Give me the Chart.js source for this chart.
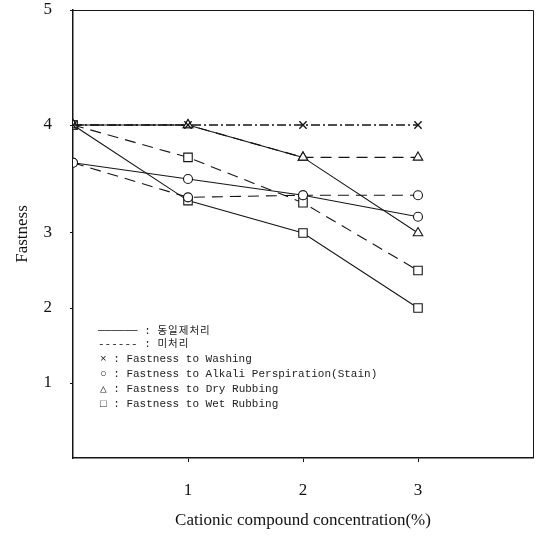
<!DOCTYPE html>
<html>
<head>
<meta charset="utf-8">
<script src="https://cdn.jsdelivr.net/npm/chart.js@4/dist/chart.umd.min.js"></script>
<style>
  html, body { margin: 0; padding: 0; background: #fff; }
  #wrap { position: relative; width: 541px; height: 537px; }
  #c { position: absolute; left: 0; top: 0; }
  .lg { position: absolute; font-family: "Liberation Mono", "DejaVu Sans Mono", monospace; font-size: 11px; color: #222; white-space: pre; line-height: 12px; }
  .ko { font-family: "Noto Sans CJK KR", sans-serif; font-size: 10.5px; letter-spacing: 1px; }
</style>
</head>
<body>
<div id="wrap">
  <canvas id="c" width="541" height="537"></canvas>
  <div class="lg" style="left:98px;top:324px">────── : <span class="ko">동일제처리</span></div>
  <div class="lg" style="left:98px;top:337px">------ : <span class="ko">미처리</span></div>
  <div class="lg" style="left:100px;top:353px">× : Fastness to Washing</div>
  <div class="lg" style="left:100px;top:368px">○ : Fastness to Alkali Perspiration(Stain)</div>
  <div class="lg" style="left:100px;top:383px">△ : Fastness to Dry Rubbing</div>
  <div class="lg" style="left:100px;top:398px">□ : Fastness to Wet Rubbing</div>
</div>
<script>
// ---- data ----
const concentration = [0, 1, 2, 3];
const washingTreated   = [4, 4, 4, 4];
const washingUntreated = [4, 4, 4, 4];
const alkaliTreated    = [3.65, 3.5, 3.35, 3.15];
const alkaliUntreated  = [3.65, 3.33, 3.35, 3.35];
const dryTreated       = [4, 4, 3.7, 3.0];
const dryUntreated     = [4, 4, 3.7, 3.7];
const wetTreated       = [4, 3.3, 3.0, 2.0];
const wetUntreated     = [4, 3.7, 3.28, 2.5];
const yTicks = [1, 2, 3, 4, 5];
const xTicks = [1, 2, 3];

// ---- printed y axis is not evenly spaced: piecewise-linear scale ----
const Y_BREAKS = [0, 1, 2, 3, 4, 5];
const Y_FRACS  = [0, 75/448, 150/448, 225/448, 333/448, 1];
function toFrac(v) {
  for (let i = 0; i < Y_BREAKS.length - 1; i++) {
    if (v <= Y_BREAKS[i+1] || i === Y_BREAKS.length - 2) {
      const t = (v - Y_BREAKS[i]) / (Y_BREAKS[i+1] - Y_BREAKS[i]);
      return Y_FRACS[i] + t * (Y_FRACS[i+1] - Y_FRACS[i]);
    }
  }
  return 0;
}
function fromFrac(f) {
  for (let i = 0; i < Y_FRACS.length - 1; i++) {
    if (f <= Y_FRACS[i+1] || i === Y_FRACS.length - 2) {
      const t = (f - Y_FRACS[i]) / (Y_FRACS[i+1] - Y_FRACS[i]);
      return Y_BREAKS[i] + t * (Y_BREAKS[i+1] - Y_BREAKS[i]);
    }
  }
  return 0;
}
class PiecewiseScale extends Chart.LinearScale {
  getPixelForValue(value) {
    if (value === null || value === undefined || isNaN(value)) return NaN;
    return this.getPixelForDecimal(toFrac(value));
  }
  getValueForPixel(pixel) {
    return fromFrac(this.getDecimalForPixel(pixel));
  }
}
PiecewiseScale.id = 'piecewise';
PiecewiseScale.defaults = Chart.LinearScale.defaults;
Chart.register(PiecewiseScale);

const INK = '#151515';
function pts(arr) { return concentration.map((x, i) => ({ x, y: arr[i] })); }
function series(label, arr, dash, style, radius) {
  return {
    label, data: pts(arr),
    borderColor: INK, borderWidth: 1.1, borderDash: dash,
    pointStyle: style, pointRadius: radius, pointBorderWidth: 1.1,
    pointBorderColor: INK, pointBackgroundColor: '#fff',
    tension: 0, fill: false
  };
}
const SOLID = [], DASH = [11, 7], DASHDOT = [9, 3, 2, 3];

const framePlugin = {
  id: 'frame',
  afterDraw(chart) {
    const a = chart.chartArea, ctx = chart.ctx;
    ctx.save();
    ctx.strokeStyle = INK; ctx.lineWidth = 1;
    ctx.beginPath();
    ctx.moveTo(a.left, a.top + 0.5); ctx.lineTo(a.right + 0.5, a.top + 0.5);
    ctx.lineTo(a.right + 0.5, a.bottom);
    ctx.stroke();
    ctx.restore();
  }
};

new Chart(document.getElementById('c'), {
  type: 'line',
  data: {
    datasets: [
      series('Washing (treated)', washingTreated, DASHDOT, 'crossRot', 5),
      series('Washing (untreated)', washingUntreated, DASHDOT, 'crossRot', 5),
      series('Alkali perspiration (treated)', alkaliTreated, SOLID, 'circle', 4.5),
      series('Alkali perspiration (untreated)', alkaliUntreated, DASH, 'circle', 4.5),
      series('Dry rubbing (treated)', dryTreated, SOLID, 'triangle', 5.5),
      series('Dry rubbing (untreated)', dryUntreated, DASH, 'triangle', 5.5),
      series('Wet rubbing (treated)', wetTreated, SOLID, 'rect', 6),
      series('Wet rubbing (untreated)', wetUntreated, DASH, 'rect', 6)
    ]
  },
  options: {
    responsive: false,
    animation: false,
    layout: { padding: { top: 0, right: 8, left: 0, bottom: 0 } },
    plugins: { legend: { display: false }, tooltip: { enabled: false } },
    scales: {
      x: {
        type: 'linear', min: 0, max: 4,
        afterBuildTicks: s => { s.ticks = xTicks.map(v => ({ value: v })); },
        afterFit: s => { s.height = 79; },
        grid: { display: true, drawOnChartArea: false, drawTicks: true, tickLength: 4, color: INK, tickColor: INK },
        border: { display: true, color: INK, width: 1.5 },
        ticks: { color: '#111', padding: 18, font: { family: '"Liberation Serif", serif', size: 17 } },
        title: { display: true, text: 'Cationic compound concentration(%)', color: '#111',
                 font: { family: '"Liberation Serif", serif', size: 17 }, padding: { top: 0, bottom: 6 } }
      },
      y: {
        type: 'piecewise', min: 0, max: 5,
        afterBuildTicks: s => { s.ticks = yTicks.map(v => ({ value: v })); },
        afterFit: s => { s.width = 73; s.paddingTop = 10; s.paddingBottom = 0; },
        grid: { display: true, drawOnChartArea: false, drawTicks: true, tickLength: 3, color: INK, tickColor: INK },
        border: { display: true, color: INK, width: 1.5 },
        ticks: { color: '#111', padding: 18, font: { family: '"Liberation Serif", serif', size: 17 } },
        title: { display: true, text: 'Fastness', color: '#111',
                 font: { family: '"Liberation Serif", serif', size: 17 }, padding: { top: 12, bottom: 0 } }
      }
    }
  },
  plugins: [framePlugin]
});
</script>
</body>
</html>
